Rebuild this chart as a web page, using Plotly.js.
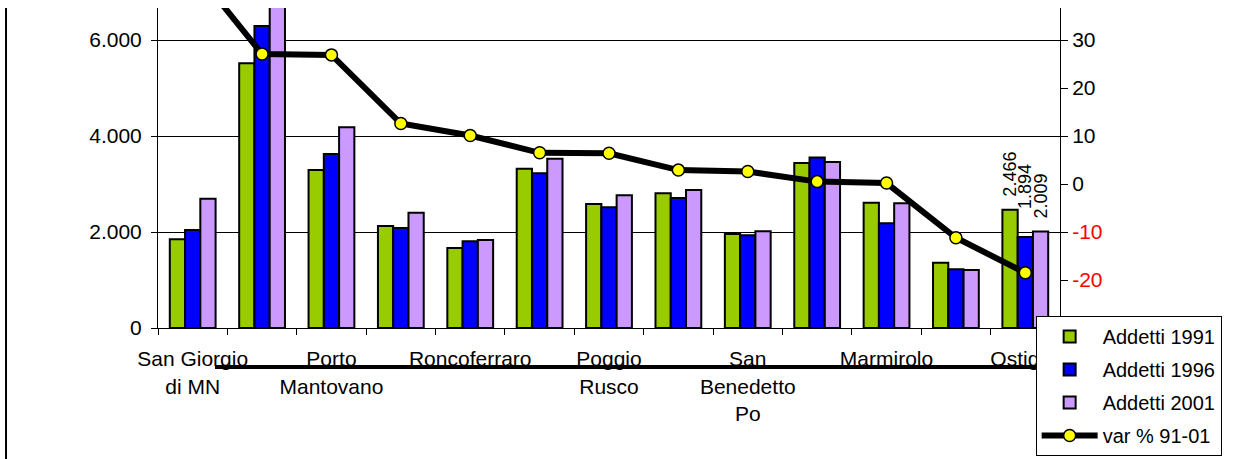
<!DOCTYPE html>
<html>
<head>
<meta charset="utf-8">
<script src="https://cdn.plot.ly/plotly-3.0.1.min.js"></script>
<style>html,body{margin:0;padding:0;background:#fff;}#chart{width:1234px;height:459px;}</style>
</head>
<body>
<div id="chart"></div>
<script>
// ---- data ----
const categories = ['San Giorgio<br>di MN', '', 'Porto<br>Mantovano', '', 'Roncoferraro', '', 'Poggio<br>Rusco', '', 'San<br>Benedetto<br>Po', '', 'Marmirolo', '', 'Ostiglia'];
const addetti1991 = [1850, 5515, 3290, 2125, 1667, 3320, 2585, 2805, 1958, 3440, 2610, 1360, 2466];
const addetti1996 = [2040, 6290, 3625, 2085, 1805, 3222, 2515, 2710, 1930, 3550, 2180, 1222, 1894];
const addetti2001 = [2695, 7000, 4180, 2400, 1833, 3527, 2765, 2875, 2014, 3458, 2597, 1208, 2009];
const var9101 = [45, 27.1, 26.9, 12.6, 10.1, 6.5, 6.4, 2.9, 2.6, 0.5, 0.2, -11.2, -18.5];
const seriesNames = ['Addetti 1991', 'Addetti 1996', 'Addetti 2001', 'var % 91-01'];
const leftTicks = [0, 2000, 4000, 6000];
const rightTicks = [-20, -10, 0, 10, 20, 30];
const labelledCategory = 'Ostiglia';

// ---- helpers ----
const fmt = v => String(v).replace(/\B(?=(\d{3})+(?!\d))/g, '.');
const idx = categories.map((_, i) => i);
const labelIdx = categories.indexOf(labelledCategory);
const labelPad = [2, 5, 2]; // leading spaces lifting each rotated label off its bar
const labels = (arr, k) => arr.map((v, i) => i === labelIdx ? '\u00a0'.repeat(labelPad[k]) + fmt(v) : '');

const barColors = ['#99CC00', '#0000FF', '#CC99FF'];
const barSeries = [addetti1991, addetti1996, addetti2001];

const traces = barSeries.map((vals, k) => ({
  type: 'bar', x: idx, y: vals, name: seriesNames[k], legendgroup: 'g' + k,
  marker: {color: barColors[k], line: {color: '#000', width: 2}},
  text: labels(vals, k), textposition: 'outside', textangle: -90,
  constraintext: 'none', cliponaxis: false,
  textfont: {size: 18, color: '#000'},
  hoverinfo: 'skip'
}));
traces.push({
  type: 'scatter', mode: 'lines+markers', x: idx, y: var9101, name: seriesNames[3],
  legendgroup: 'g3', yaxis: 'y2',
  line: {color: '#000', width: 6},
  marker: {color: '#FFFF00', size: 12, line: {color: '#000', width: 1.5}},
  hoverinfo: 'skip'
});
traces.push({type: 'scatter', x: [], y: [], xaxis: 'x2', showlegend: false, hoverinfo: 'skip'});

const n = categories.length;
const boundaries = [];
for (let i = 0; i <= n; i++) boundaries.push(i - 0.5);

const layout = {
  width: 1234, height: 459,
  margin: {l: 158, r: 174, t: 8, b: 131, pad: 0, autoexpand: false},
  paper_bgcolor: '#fff', plot_bgcolor: '#fff',
  font: {family: 'Liberation Sans, Arial, sans-serif', size: 20, color: '#000'},
  barmode: 'group', bargap: 0.34, bargroupgap: 0,
  showlegend: true,
  legend: {x: 0.973, y: 0.0375, xanchor: 'left', yanchor: 'top', bgcolor: '#fff',
           bordercolor: '#000', borderwidth: 1, font: {size: 20}, traceorder: 'grouped',
           tracegroupgap: 4, itemwidth: 56},
  xaxis: {range: [-0.5, n - 0.5], tickmode: 'array', tickvals: boundaries,
          ticktext: boundaries.map(() => ''), ticks: 'outside', ticklen: 6,
          tickcolor: '#000', showline: true, linecolor: '#000', linewidth: 1,
          showgrid: false, zeroline: false, fixedrange: true},
  xaxis2: {overlaying: 'x', anchor: 'y', side: 'bottom', range: [-0.5, n - 0.5],
           tickmode: 'array', tickvals: idx, ticktext: categories,
           ticks: 'outside', ticklen: 12, tickcolor: 'rgba(0,0,0,0)',
           showline: false, showgrid: false, zeroline: false,
           tickfont: {size: 21}, fixedrange: true},
  yaxis: {range: [0, 6667], tickmode: 'array', tickvals: leftTicks,
          ticktext: leftTicks.map(fmt), ticks: 'outside', ticklen: 6, tickcolor: '#000',
          ticklabelstandoff: 5,
          showline: true, linecolor: '#000', linewidth: 1,
          showgrid: true, gridcolor: '#000', gridwidth: 1, zeroline: false,
          tickfont: {size: 21}, fixedrange: true},
  yaxis2: {overlaying: 'y', side: 'right', range: [-30, 36.67], tickmode: 'array',
           tickvals: rightTicks,
           ticktext: rightTicks.map(v => v < 0 ? '<span style="color:#FF0000">' + v + '</span>' : String(v)),
           ticks: 'outside', ticklen: 7, tickcolor: '#000',
           showline: true, linecolor: '#000', linewidth: 1,
           showgrid: false, zeroline: false, tickfont: {size: 21}, fixedrange: true},
  shapes: [
    {type: 'line', xref: 'paper', yref: 'paper', x0: -0.1685, x1: -0.1685, y0: 1, y1: -0.41,
     line: {color: '#000', width: 2}},
    {type: 'line', xref: 'paper', yref: 'paper', x0: 0.0632, x1: 0.9945, y0: -0.122, y1: -0.122,
     line: {color: '#000', width: 4}}
  ]
};

Plotly.newPlot('chart', traces, layout, {staticPlot: true, displayModeBar: false});
</script>
</body>
</html>
